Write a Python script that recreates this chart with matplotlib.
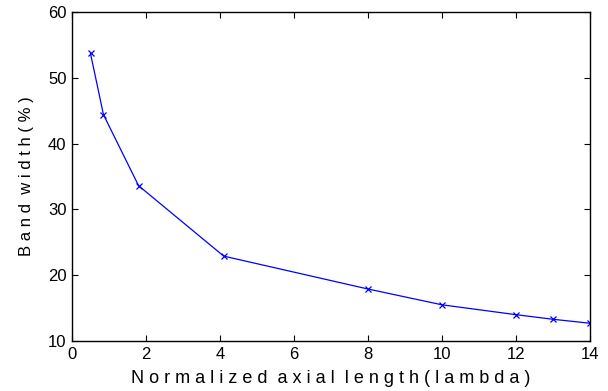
import matplotlib
matplotlib.use("Agg")
import matplotlib.pyplot as plt

# normalized axial length (lambda) vs band width (%)
length = [0.5, 0.85, 1.8, 4.1, 8, 10, 12, 13, 14]
bandwidth = [53.7, 44.4, 33.6, 22.9, 17.9, 15.5, 14.0, 13.3, 12.7]

xticks = [0, 2, 4, 6, 8, 10, 12, 14]
yticks = [10, 20, 30, 40, 50, 60]


def spaced(s):
    # matlab-ish letter spacing on the axis labels
    return "  ".join(" ".join(w) for w in s.split(" "))


plt.rcParams['font.family'] = ['Liberation Sans', 'DejaVu Sans']

fig = plt.figure(figsize=(6.08, 3.91), dpi=100)
ax = fig.add_axes([72 / 608, 50 / 391, 518 / 608, 329 / 391])

ax.plot(length, bandwidth, color='blue', marker='x', markersize=4,
        linewidth=0.9, markeredgewidth=0.9)

ax.set_xlim(0, 14)
ax.set_ylim(10, 60)
ax.set_xticks(xticks)
ax.set_yticks(yticks)
ax.tick_params(direction='in', top=True, right=True, labelsize=12,
               length=4, width=0.8, pad=4)
for sp in ax.spines.values():
    sp.set_linewidth(1.0)

ax.set_xlabel(spaced("Normalized axial length(lambda)"), fontsize=13, labelpad=6)
ax.set_ylabel(spaced("Band width(%)"), fontsize=12, labelpad=10)

fig.savefig("out.png", dpi=100)
